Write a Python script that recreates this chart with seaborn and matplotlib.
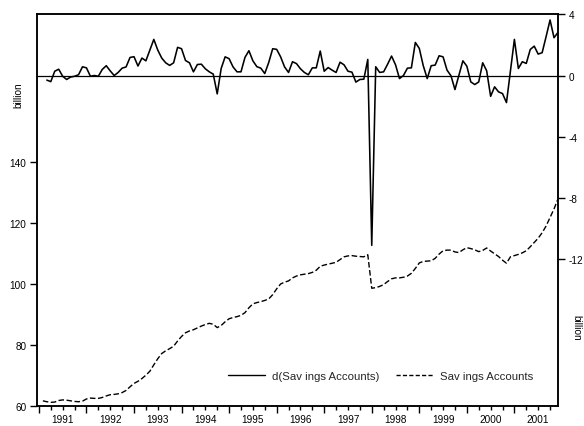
import numpy as np
import pandas as pd
import matplotlib
matplotlib.use("Agg")
import matplotlib.pyplot as plt
from matplotlib.lines import Line2D
import seaborn as sns

# ---- data ----
# d(Savings Accounts), monthly, Mar 1991 .. Dec 2001 (billion, right axis)
d_values = [
    -0.3, -0.4, 0.28, 0.41, -0.05, -0.26, -0.1, -0.05, 0.05, 0.57, 0.5, -0.05,
    0.0, -0.05, 0.4, 0.64, 0.3, 0.0, 0.2, 0.48, 0.56, 1.18, 1.23, 0.62,
    1.14, 0.96, 1.66, 2.36, 1.66, 1.14, 0.83, 0.66,
    0.83, 1.84, 1.75, 0.98, 0.83, 0.24, 0.72, 0.74, 0.44, 0.24, 0.09, -1.2,
    0.46, 1.22, 1.1, 0.56, 0.24, 0.24, 1.18, 1.62, 0.96, 0.58, 0.48, 0.13,
    0.85, 1.75, 1.71, 1.22, 0.56, 0.2, 0.9, 0.78, 0.44,
    0.2, 0.05, 0.5, 0.5, 1.6, 0.28, 0.52, 0.35, 0.2, 0.87, 0.7, 0.28,
    0.22, -0.43, -0.26, -0.24, 1.05, -11.1, 0.57, 0.2, 0.24, 0.74, 1.27, 0.7,
    -0.2, 0.0, 0.48, 0.5, 2.16, 1.77, 0.64, -0.2, 0.64,
    0.68, 1.29, 1.22, 0.35, -0.02, -0.92, 0.02, 0.96, 0.61, -0.42, -0.59, -0.42,
    0.83, 0.31, -1.36, -0.74, -1.07, -1.18, -1.77, 0.3, 2.36, 0.46, 0.9, 0.79,
    1.7, 1.92, 1.4, 1.49, 2.54, 3.63, 2.47, 2.82,
]

# Savings Accounts level, monthly, Feb 1991 .. Dec 2001 (billion, left axis)
level_values = [
    61.7, 61.4, 61.2, 61.3, 61.8, 62.0, 61.9, 61.7, 61.5, 61.4, 61.6, 62.3,
    62.6, 62.5, 62.5, 62.8, 63.3, 63.7, 63.8, 64.0, 64.4, 65.1, 66.3, 67.4,
    68.1, 69.0, 70.1, 71.4, 73.5, 75.5, 77.2, 78.1, 78.8, 79.6, 81.3, 82.8,
    84.0, 84.6, 85.0, 85.6, 86.2, 86.7, 87.1, 86.8, 85.7, 86.4, 87.6, 88.6,
    89.0, 89.3, 89.7, 90.6, 92.2, 93.5, 93.9, 94.2, 94.6, 95.1, 96.5, 98.4,
    100.0, 100.6, 101.0, 102.0, 102.6, 103.0, 103.2, 103.4, 103.8, 104.5, 105.8, 106.2,
    106.5, 106.8, 107.1, 108.0, 108.9, 109.2, 109.3, 109.1, 109.0, 108.9, 109.6, 98.6,
    98.8, 99.2, 99.8, 100.8, 101.7, 102.0, 102.0, 102.2, 102.6, 103.5, 105.1, 106.9,
    107.4, 107.5, 107.6, 108.4, 109.8, 110.9, 111.1, 111.1, 110.5, 110.3, 111.2, 111.9,
    111.6, 111.2, 110.6, 111.0, 111.8, 110.8, 109.9, 109.0, 107.8, 106.8, 108.9, 109.3,
    109.7, 110.2, 110.9, 112.2, 113.6, 115.0, 116.8, 119.0, 121.8, 124.6, 127.9,
]

year_labels = [str(y) for y in range(1991, 2002)]
left_ticks = [60, 80, 100, 120, 140]
right_ticks = [4, 0, -4, -8, -12]
legend_labels = ["d(Sav ings Accounts)", "Sav ings Accounts"]

level_dates = pd.date_range("1991-02-01", periods=len(level_values), freq="MS")
d_dates = pd.date_range("1991-03-01", periods=len(d_values), freq="MS")


def to_year(dates):
    return np.asarray(dates.year + (dates.month - 1) / 12.0, dtype=float)


df_level = pd.DataFrame({"t": to_year(level_dates), "v": level_values})
df_d = pd.DataFrame({"t": to_year(d_dates), "v": d_values})

# ---- style ----
sns.set_theme(style="ticks")
plt.rcParams["font.family"] = ["Liberation Sans", "DejaVu Sans"]
plt.rcParams["axes.linewidth"] = 1.1

W, H = 584, 427
fig = plt.figure(figsize=(W / 100, H / 100), dpi=100)
ax = fig.add_axes([37 / W, 1 - 407 / H, (558 - 37) / W, (407 - 15) / H])
ax2 = ax.twinx()

# level (left axis), dashed
sns.lineplot(data=df_level, x="t", y="v", ax=ax, color="black", linewidth=1.0,
             legend=False)
ax.lines[0].set_dashes((4.0, 1.8))

# difference (right axis), solid
ax2.axhline(0, color="black", linewidth=0.9, zorder=1)
sns.lineplot(data=df_d, x="t", y="v", ax=ax2, color="black", linewidth=1.15,
             legend=False)

# ---- axes ----
ax.set_xlim(1990.96, 2001.917)
ax.set_ylim(60, 188.5)
ax2.set_ylim(-21.6, 4.02)

ax.set_yticks(left_ticks)
ax.set_yticklabels([str(v) for v in left_ticks])
ax2.set_yticks(right_ticks)
ax2.set_yticklabels([str(v) for v in right_ticks])

years = np.arange(1991, 2002)
ax.set_xticks(years)
ax.set_xticklabels([""] * len(years))
minor_pos = []
minor_lab = []
for y, lab in zip(years, year_labels):
    for q, l in ((0.25, ""), (0.5, lab), (0.75, "")):
        minor_pos.append(y + q)
        minor_lab.append(l)
ax.set_xticks(minor_pos, minor=True)
ax.set_xticklabels(minor_lab, minor=True)

ax.tick_params(axis="x", which="major", direction="out", length=5, width=1,
               color="black")
ax.tick_params(axis="x", which="minor", direction="out", length=3, width=1,
               color="black", labelsize=7.2, pad=2.5, labelcolor="black")
ax.tick_params(axis="y", which="major", direction="out", length=5, width=1,
               color="black", labelsize=7.2, pad=2.5, labelcolor="black")
ax2.tick_params(axis="y", which="major", direction="out", length=5, width=1,
                color="black", labelsize=7.2, pad=2.5, labelcolor="black")
ax.tick_params(axis="y", which="minor", length=0)
ax2.tick_params(axis="y", which="minor", length=0)

ax.set_xlabel("")
ax.set_ylabel("")
ax2.set_xlabel("")
ax2.set_ylabel("")
for a in (ax, ax2):
    for s in a.spines.values():
        s.set_visible(True)
        s.set_color("black")
        s.set_linewidth(1.1)

# ---- legend ----
handles = [Line2D([], [], color="black", linewidth=1.0),
           Line2D([], [], color="black", linewidth=1.0, dashes=(3.0, 1.6))]
ax2.legend(handles, legend_labels, ncol=2, frameon=False, loc="center",
           bbox_to_anchor=(0.66, 0.077), fontsize=8.2, handlelength=3.25,
           handletextpad=0.6, columnspacing=1.5)

# ---- axis unit labels ----
fig.text(18 / W, 1 - 95 / H, "billion", rotation=90, ha="center", va="center",
         fontsize=7.2, color="black")
fig.text(576 / W, 1 - 328 / H, "billion", rotation=270, ha="center",
         va="center", fontsize=7.2, color="black")

fig.savefig("out.png", dpi=100)
